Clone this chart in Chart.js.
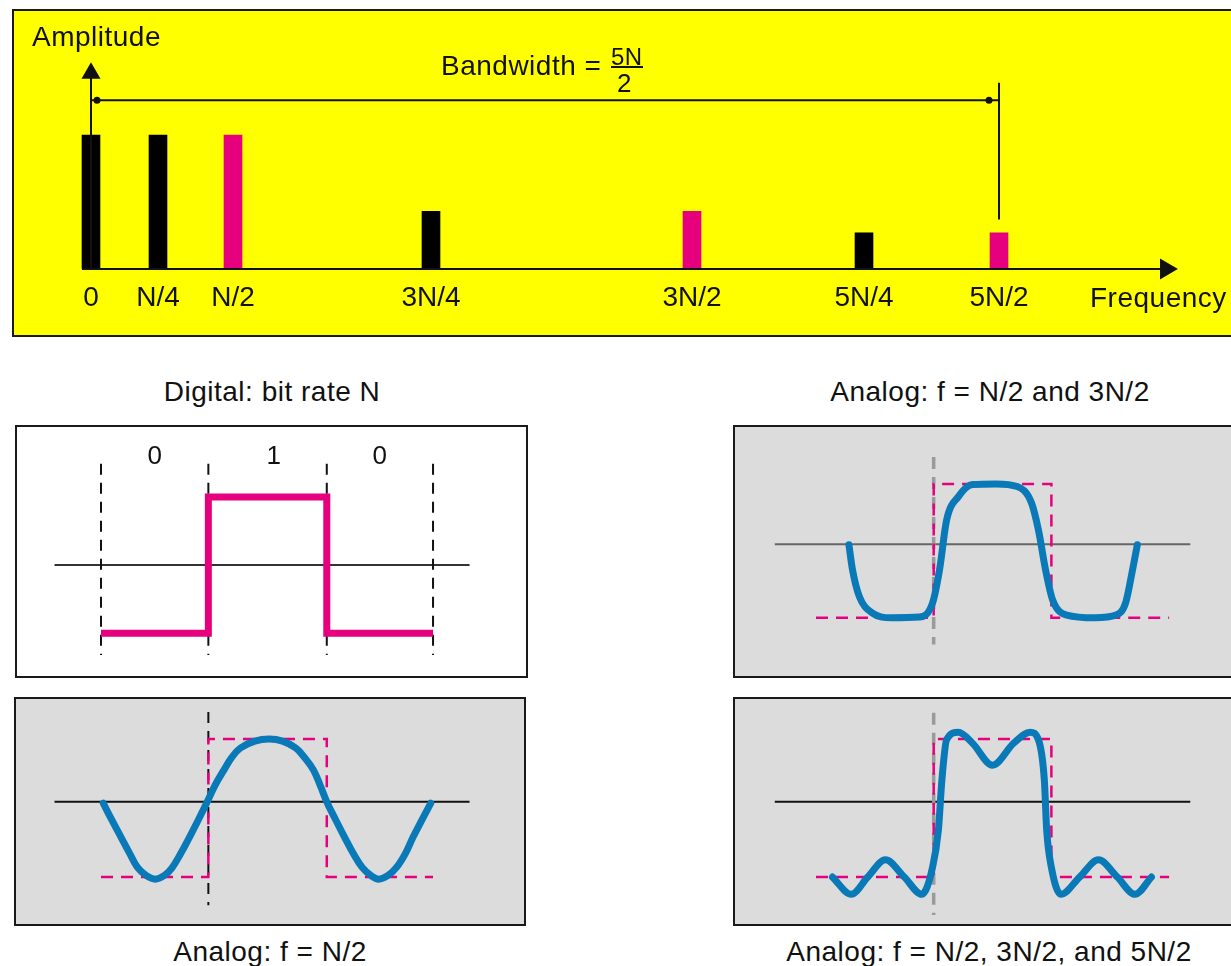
<!DOCTYPE html>
<html>
<head>
<meta charset="utf-8">
<script src="https://cdn.jsdelivr.net/npm/chart.js@4.4.1/dist/chart.umd.min.js"></script>
<style>
  body { margin: 0; width: 1231px; height: 966px; overflow: hidden; background: #fff;
         font-family: "Liberation Sans", Arial, sans-serif; color: #111; }
  .box { position: absolute; box-sizing: border-box; border: 2px solid #1a1a1a; }
  .box canvas { position: absolute; left: 0; top: 0; }
  .txt { position: absolute; font-size: 28px; line-height: 28px; letter-spacing: 0.5px; white-space: nowrap; }
  .ctr { transform: translateX(-50%); }
</style>
</head>
<body>

<div class="box" style="left:12px;top:9px;width:1240px;height:328px;background:#ffff00;">
  <canvas id="specChart" width="1217" height="324"></canvas>
</div>
<div class="box" style="left:15px;top:425px;width:513px;height:253px;background:#fff;">
  <canvas id="digital" width="509" height="249"></canvas>
</div>
<div class="box" style="left:14px;top:697px;width:512px;height:229px;background:#dcdcdc;">
  <canvas id="analog1" width="508" height="225"></canvas>
</div>
<div class="box" style="left:733px;top:425px;width:520px;height:253px;background:#dcdcdc;">
  <canvas id="analog13" width="496" height="249"></canvas>
</div>
<div class="box" style="left:733px;top:697px;width:520px;height:229px;background:#dcdcdc;">
  <canvas id="analog135" width="496" height="225"></canvas>
</div>

<div class="txt" style="left:32px;top:23px;">Amplitude</div>
<div class="txt" style="left:1090px;top:284px;">Frequency</div>
<div class="txt" style="left:441px;top:52px;">Bandwidth =</div>
<div class="txt" style="left:611px;top:43px;font-size:24px;">5N</div>
<div style="position:absolute;left:611px;top:66px;width:32px;height:2px;background:#111;"></div>
<div class="txt" style="left:617px;top:69px;font-size:26px;">2</div>

<div class="txt ctr" style="left:272px;top:378px;">Digital: bit rate N</div>
<div class="txt ctr" style="left:990px;top:378px;">Analog: f = N/2 and 3N/2</div>
<div class="txt ctr" style="left:270px;top:938px;">Analog: f = N/2</div>
<div class="txt ctr" style="left:989px;top:938px;">Analog: f = N/2, 3N/2, and 5N/2</div>

<div id="bitText"></div>

<script>
// spectrum (top panel)
const freqLabels = ["0", "N/4", "N/2", "3N/4", "3N/2", "5N/4", "5N/2"];
const freqPos = [0, 0.67, 1.42, 3.40, 6.01, 7.73, 9.08];   // axis is not to scale
const amplitudes = [1, 1, 1, 0.43, 0.43, 0.27, 0.27];
const harmonicUsed = [false, false, true, false, true, false, true];
const bandwidthEnd = 9.08;

// bits of the digital signal
const bitLabels = ["0", "1", "0"];
const bitEdgesLeft = [0, 0.97, 2.04, 3];
const bitEdgesRight = [0, 1, 2, 3];

// analog approximations, [x, y]
const sineN2 = [[0.02, 0.07], [0.10, -0.18], [0.18, -0.42], [0.26, -0.66], [0.33, -0.86], [0.41, -0.98],
  [0.49, -1.03], [0.57, -0.98], [0.64, -0.87], [0.72, -0.66], [0.80, -0.42], [0.88, -0.17],
  [0.96, 0.09], [1.03, 0.33], [1.11, 0.55], [1.18, 0.73], [1.26, 0.87], [1.39, 0.97], [1.52, 1.00],
  [1.64, 0.97], [1.76, 0.87], [1.84, 0.73], [1.92, 0.55], [1.98, 0.33], [2.04, 0.09], [2.12, -0.17],
  [2.20, -0.42], [2.28, -0.66], [2.36, -0.86], [2.44, -0.98], [2.51, -1.03], [2.59, -0.98],
  [2.67, -0.86], [2.75, -0.66], [2.82, -0.42], [2.90, -0.17], [2.98, 0.07]];
const waveN2_3N2 = [[0.28, 0.09], [0.31, -0.28], [0.37, -0.69], [0.48, -0.93], [0.64, -1.0], [0.88, -0.99],
  [0.99, -0.78], [1.05, -0.28], [1.11, 0.46], [1.21, 0.81], [1.33, 0.99], [1.53, 1.0], [1.71, 0.96],
  [1.83, 0.72], [1.89, 0.31], [1.95, -0.28], [2.01, -0.73], [2.13, -0.96], [2.37, -1.0], [2.55, -0.96],
  [2.63, -0.78], [2.69, -0.28], [2.73, 0.09]];
const waveN2_3N2_5N2 = [[0.14, -1.0], [0.30, -1.25], [0.44, -1.0], [0.59, -0.75], [0.75, -1.0], [0.90, -1.25],
  [0.99, -0.86], [1.04, -0.32], [1.07, 0.41], [1.11, 0.99], [1.21, 1.10], [1.33, 0.94], [1.50, 0.62],
  [1.68, 0.94], [1.82, 1.10], [1.89, 0.99], [1.94, 0.41], [1.96, -0.32], [2.00, -0.86], [2.08, -1.25],
  [2.24, -1.0], [2.40, -0.75], [2.56, -1.0], [2.71, -1.25], [2.85, -1.0]];

const MAGENTA = "#e6007e";
const BLUE = "#0a79b8";
const FONT = "'Liberation Sans', Arial, sans-serif";

const toXY = arr => arr.map(p => ({ x: p[0], y: p[1] }));

function seg(data, color, width, extra) {
  return Object.assign({
    type: "line", data, borderColor: color, backgroundColor: color, borderWidth: width,
    pointRadius: 0, fill: false, clip: false, tension: 0
  }, extra || {});
}

function squareWave(bits, edges) {
  const pts = [];
  bits.forEach((b, i) => {
    const y = b === "1" ? 1 : -1;
    pts.push({ x: edges[i], y }, { x: edges[i + 1], y });
  });
  return pts;
}

const baseOpts = {
  responsive: false,
  animation: false,
  events: [],
  layout: { padding: 0, autoPadding: false },
  plugins: { legend: { display: false }, tooltip: { enabled: false } }
};

// top spectrum chart
new Chart(document.getElementById("specChart"), {
  type: "bar",
  data: {
    datasets: [
      {
        type: "bar",
        data: freqPos.map((x, i) => ({ x, y: amplitudes[i] })),
        backgroundColor: harmonicUsed.map(h => (h ? MAGENTA : "#000")),
        barThickness: 18,
        order: 2
      },
      seg([{ x: -0.09, y: 0 }, { x: 10.75, y: 0 }], "#111", 2,
        { pointRadius: [0, 10], pointStyle: "triangle", pointRotation: 90, order: 1 }),
      seg([{ x: 0, y: 0 }, { x: 0, y: 1.46 }], "#111", 2,
        { pointRadius: [0, 9], pointStyle: "triangle", order: 1 }),
      seg([{ x: 0, y: 1.26 }, { x: 0.06, y: 1.26 }, { x: bandwidthEnd - 0.1, y: 1.26 }, { x: bandwidthEnd, y: 1.26 }],
        "#111", 2, { pointRadius: [0, 2.5, 2.5, 0], order: 1 }),
      seg([{ x: bandwidthEnd, y: 1.39 }, { x: bandwidthEnd, y: 0.37 }], "#111", 2, { order: 1 })
    ]
  },
  options: Object.assign({}, baseOpts, {
    scales: {
      x: {
        type: "linear", min: -0.77, max: 11.40, offset: false,
        grid: { display: false, drawTicks: false, offset: false },
        border: { display: false },
        afterBuildTicks: s => { s.ticks = freqPos.map(v => ({ value: v })); },
        afterFit: s => {
          s.height = 66;
          s.paddingLeft = 0; s.paddingRight = 0;
        },
        ticks: {
          autoSkip: false, maxRotation: 0, padding: 12, color: "#111",
          font: { family: FONT, size: 28 },
          callback: (v, i) => freqLabels[i]
        }
      },
      y: { display: false, min: 0, max: 1.925 }
    }
  })
});

function wavePanel(id, range, datasets) {
  new Chart(document.getElementById(id), {
    type: "line",
    data: { datasets },
    options: Object.assign({}, baseOpts, {
      scales: {
        x: { type: "linear", display: false, min: range[0], max: range[1] },
        y: { display: false, min: range[2], max: range[3] }
      }
    })
  });
}

const blueLine = (pts, smooth) => seg(toXY(pts), BLUE, 7, Object.assign(
  { borderCapStyle: "round", borderJoinStyle: "round", order: 0 },
  smooth ? { tension: 0.4 } : { cubicInterpolationMode: "monotone" }));
const dashedSquare = edges => seg(squareWave(bitLabels, edges), MAGENTA, 2.5, { borderDash: [12, 8], order: 1 });

// digital signal
wavePanel("digital", [-0.759, 3.840, -1.63, 2.03], [
  seg(squareWave(bitLabels, bitEdgesLeft), MAGENTA, 7, { borderJoinStyle: "miter", order: 1 }),
  ...bitEdgesLeft.map(e => seg([{ x: e, y: 1.49 }, { x: e, y: -1.32 }], "#111", 2, { borderDash: [11, 8], order: 2 })),
  seg([{ x: -0.42, y: 0 }, { x: 3.33, y: 0 }], "#333", 2, { order: 3 })
]);

// f = N/2
wavePanel("analog1", [-0.768, 3.822, -1.68, 1.58], [
  blueLine(sineN2, true),
  dashedSquare(bitEdgesLeft),
  seg([{ x: bitEdgesLeft[1], y: 1.39 }, { x: bitEdgesLeft[1], y: -1.41 }], "#111", 2, { borderDash: [11, 8], order: 2 }),
  seg([{ x: -0.42, y: 0.09 }, { x: 3.33, y: 0.09 }], "#111", 2, { order: 3 })
]);

// f = N/2 and 3N/2
wavePanel("analog13", [-0.688, 3.526, -1.87, 1.85], [
  blueLine(waveN2_3N2),
  dashedSquare(bitEdgesRight),
  seg([{ x: bitEdgesRight[1], y: 1.40 }, { x: bitEdgesRight[1], y: -1.40 }], "#9a9a9a", 3.5, { borderDash: [12, 8], order: 2 }),
  seg([{ x: -0.35, y: 0.10 }, { x: 3.18, y: 0.10 }], "#666", 2, { order: 3 })
]);

// f = N/2, 3N/2 and 5N/2
wavePanel("analog135", [-0.688, 3.526, -1.68, 1.58], [
  blueLine(waveN2_3N2_5N2),
  dashedSquare(bitEdgesRight),
  seg([{ x: bitEdgesRight[1], y: 1.38 }, { x: bitEdgesRight[1], y: -1.55 }], "#9a9a9a", 3.5, { borderDash: [12, 8], order: 2 }),
  seg([{ x: -0.35, y: 0.09 }, { x: 3.18, y: 0.09 }], "#111", 2, { order: 3 })
]);

// bit labels above the digital signal
const bitText = document.getElementById("bitText");
const bitCenters = [155, 274, 380];
bitLabels.forEach((b, i) => {
  const d = document.createElement("div");
  d.className = "txt ctr";
  d.style.left = bitCenters[i] + "px";
  d.style.top = "441px";
  d.style.fontSize = "26px";
  d.textContent = b;
  bitText.appendChild(d);
});
</script>
</body>
</html>
